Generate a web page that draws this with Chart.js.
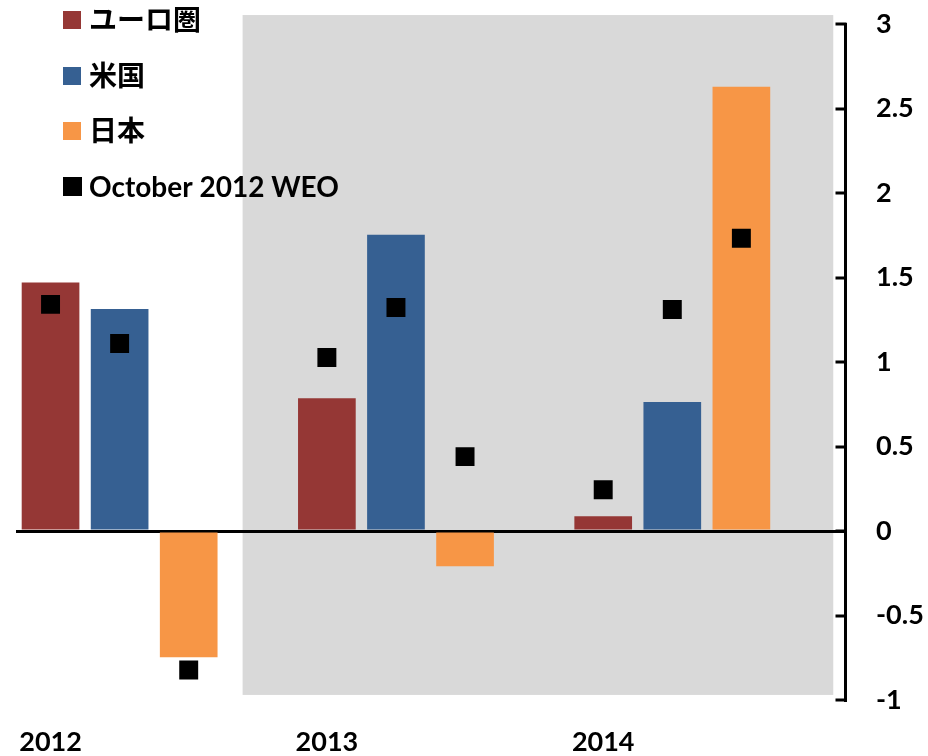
<!DOCTYPE html>
<html>
<head>
<meta charset="utf-8">
<script src="https://cdn.jsdelivr.net/npm/chart.js@4/dist/chart.umd.min.js"></script>
<style>
  html, body { margin: 0; padding: 0; background: #fff; }
  #wrap { width: 928px; height: 756px; position: relative; }
</style>
</head>
<body>
<div id="wrap"><canvas id="growthChart"></canvas></div>
<script>
// -------- DATA --------
const years = ["2012", "2013", "2014"];
const seriesNames = ["ユーロ圏", "米国", "日本"];
const euroArea = [1.47, 0.785, 0.087];
const unitedStates = [1.314, 1.753, 0.763];
const japan = [-0.747, -0.209, 2.628];

const weoLabel = "October 2012 WEO";
const weoEuro = [1.341, 1.027, 0.244];
const weoUS = [1.11, 1.323, 1.311];
const weoJapan = [-0.823, 0.44, 1.732];

const yTicks = [-1, -0.5, 0, 0.5, 1, 1.5, 2, 2.5, 3];

// -------- LAYOUT HELPERS --------
// each year gets 4 slots: three bars and an empty gap
const slotsPerYear = 4;
const slotLabels = [];
years.forEach((yr) => {
  slotLabels.push(yr);
  for (let i = 1; i < slotsPerYear; i++) slotLabels.push("");
});

function spread(values, pos) {
  const out = slotLabels.map(() => null);
  values.forEach((v, g) => { out[g * slotsPerYear + pos] = v; });
  return out;
}

const weoAll = slotLabels.map(() => null);
[weoEuro, weoUS, weoJapan].forEach((arr, pos) => {
  arr.forEach((v, g) => { weoAll[g * slotsPerYear + pos] = v; });
});

const FONT = "Lato, 'Noto Sans CJK JP', sans-serif";
const colors = ["#953735", "#366092", "#F79646"];

// -------- PLUGINS --------
// grey band behind 2013-2014 (projection period)
const shadePlugin = {
  id: "shade",
  beforeDraw(chart) {
    const { ctx, scales: { x, y } } = chart;
    const left = x.getPixelForValue(2.78);
    const right = x.getPixelForValue(11.33);
    const top = y.getPixelForValue(3.053);
    const bottom = y.getPixelForValue(-0.97);
    ctx.save();
    ctx.fillStyle = "#D9D9D9";
    ctx.fillRect(left, top, right - left, bottom - top);
    ctx.restore();
  }
};

// inward tick marks + legend
const decoPlugin = {
  id: "deco",
  afterDraw(chart) {
    const { ctx, scales: { y } } = chart;
    const axisX = y.left + 1.5;
    ctx.save();
    ctx.strokeStyle = "#000";
    ctx.lineWidth = 3;
    ctx.beginPath();
    y.ticks.forEach((t, i) => {
      const py = Math.round(y.getPixelForTick(i));
      ctx.moveTo(axisX - 11, py);
      ctx.lineTo(axisX, py);
    });
    ctx.stroke();

    // legend
    const items = seriesNames.map((n, i) => ({ text: n, color: colors[i] }));
    items.push({ text: weoLabel, color: "#000" });
    const rowY = [20, 76, 131, 186.5];
    ctx.textBaseline = "middle";
    ctx.textAlign = "left";
    items.forEach((it, i) => {
      const size = i === 3 ? 19 : 18;
      ctx.fillStyle = it.color;
      ctx.fillRect(63, rowY[i] - size / 2, size, size);
      ctx.fillStyle = "#000";
      ctx.font = "bold " + (i === 3 ? 28 : 28) + "px " + FONT;
      ctx.fillText(it.text, 89, rowY[i] + 1);
    });
    ctx.restore();
  }
};

// -------- CHART --------
const ctx = document.getElementById("growthChart").getContext("2d");
const barBase = {
  type: "bar",
  grouped: false,
  barPercentage: 0.835,
  categoryPercentage: 1,
  borderWidth: 0,
  order: 1
};

new Chart(ctx, {
  type: "bar",
  data: {
    labels: slotLabels,
    datasets: [
      Object.assign({}, barBase, { label: seriesNames[0], data: spread(euroArea, 0), backgroundColor: colors[0] }),
      Object.assign({}, barBase, { label: seriesNames[1], data: spread(unitedStates, 1), backgroundColor: colors[1] }),
      Object.assign({}, barBase, { label: seriesNames[2], data: spread(japan, 2), backgroundColor: colors[2] }),
      {
        type: "line",
        label: weoLabel,
        data: weoAll,
        showLine: false,
        pointStyle: "rect",
        pointRadius: 13.4,
        pointHoverRadius: 13.4,
        pointBackgroundColor: "#000",
        pointBorderWidth: 0,
        order: 0
      }
    ]
  },
  options: {
    responsive: true,
    maintainAspectRatio: false,
    animation: false,
    layout: { padding: { left: 16, top: 24, right: 0, bottom: 0 } },
    plugins: {
      legend: { display: false },
      tooltip: { enabled: false }
    },
    scales: {
      x: {
        grid: { display: false, drawTicks: false },
        border: { display: false },
        ticks: {
          autoSkip: false,
          maxRotation: 0,
          padding: 26,
          color: "#000",
          font: { family: FONT, size: 27, weight: "bold" }
        },
        afterFit(scale) {
          scale.height = 56;
          scale.paddingLeft = 0;
          scale.paddingRight = 0;
        }
      },
      y: {
        position: "right",
        min: yTicks[0],
        max: yTicks[yTicks.length - 1],
        afterBuildTicks(scale) { scale.ticks = yTicks.map((v) => ({ value: v })); },
        grid: {
          drawTicks: false,
          lineWidth: 3,
          color: (c) => (c.tick && c.tick.value === 0 ? "#000" : "rgba(0,0,0,0)")
        },
        border: { display: true, color: "#000", width: 3 },
        ticks: {
          padding: 31,
          color: "#000",
          font: { family: FONT, size: 27, weight: "bold" },
          callback: (v) => String(v)
        },
        afterFit(scale) {
          scale.width = 83;
          scale.paddingTop = 0;
          scale.paddingBottom = 0;
        }
      }
    }
  },
  plugins: [shadePlugin, decoPlugin]
});
</script>
</body>
</html>
